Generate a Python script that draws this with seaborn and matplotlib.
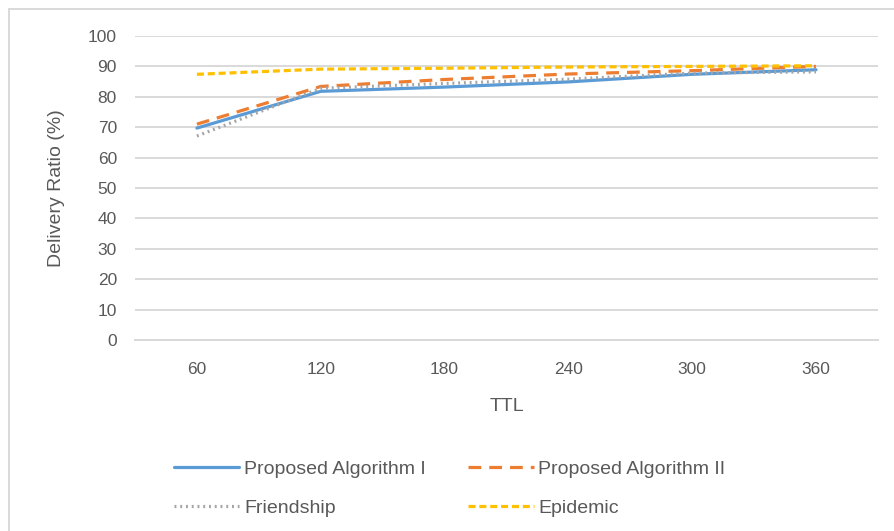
import pandas as pd
import matplotlib.pyplot as plt
import seaborn as sns

# values
ttl = [60, 120, 180, 240, 300, 360]
proposed_1 = [69.7, 81.8, 83.2, 84.9, 87.4, 88.9]
proposed_2 = [71.0, 83.4, 85.7, 87.5, 88.6, 90.0]
friendship = [67.1, 82.8, 84.4, 85.8, 87.8, 88.2]
epidemic = [87.4, 89.1, 89.4, 89.8, 90.0, 90.2]

series_names = ["Proposed Algorithm I", "Proposed Algorithm II", "Friendship", "Epidemic"]
series_values = [proposed_1, proposed_2, friendship, epidemic]

rows = []
for name, vals in zip(series_names, series_values):
    for t, v in zip(ttl, vals):
        rows.append({"TTL": t, "ratio": v, "series": name})
data = pd.DataFrame(rows)

sns.set_style("white")
plt.rcParams['font.family'] = ['Liberation Sans', 'DejaVu Sans']
text_color = "#595959"

fig = plt.figure(figsize=(8.94, 5.31), dpi=100)
ax = fig.add_axes([0.151, 0.3597, 0.831, 0.5725])

palette = {"Proposed Algorithm I": "#5B9BD5",
           "Proposed Algorithm II": "#ED7D31",
           "Friendship": "#A5A5A5",
           "Epidemic": "#FFC000"}
dashes = {"Proposed Algorithm I": "",
          "Proposed Algorithm II": (4, 2.5),
          "Friendship": (0.6, 1.2),
          "Epidemic": (2.2, 1.2)}

sns.lineplot(data=data, x="TTL", y="ratio", hue="series", style="series",
             palette=palette, dashes=dashes, linewidth=2.3, ax=ax, legend=False)
for line in ax.lines:
    line.set_dash_capstyle("butt")

ax.set_xlim(30, 390)
ax.set_ylim(0, 100)
ax.set_xticks(ttl)
ax.set_yticks(range(0, 101, 10))
ax.grid(axis="y", color="#D9D9D9", linewidth=1.4)
ax.set_axisbelow(True)
for s in ["top", "right", "left"]:
    ax.spines[s].set_visible(False)
ax.spines["bottom"].set_color("#D9D9D9")
ax.spines["bottom"].set_linewidth(1.4)
ax.tick_params(axis="both", length=0, labelsize=12.5, labelcolor=text_color)
ax.tick_params(axis="x", pad=16)
ax.tick_params(axis="y", pad=13)

ax.set_xlabel("TTL", fontsize=14, color=text_color, labelpad=15)
ax.set_ylabel("Delivery Ratio (%)", fontsize=14, color=text_color)
ax.yaxis.set_label_coords(-0.094, 0.5)

# legend built from the plotted lines, filled row by row like the reference
lines = dict(zip(series_names, ax.lines[:4]))
order = ["Proposed Algorithm I", "Friendship", "Proposed Algorithm II", "Epidemic"]
leg = fig.legend([lines[n] for n in order], order, loc="lower left",
                 bbox_to_anchor=(0.175, -0.006), ncol=2, frameon=False, fontsize=14,
                 handlelength=3.35, columnspacing=2.2, handletextpad=0.25,
                 labelspacing=1.1)
for t in leg.get_texts():
    t.set_color(text_color)

# light frame (top and left edges visible in the reference)
fig.add_artist(plt.Line2D([9 / 894, 1], [1 - 9 / 531, 1 - 9 / 531], color="#D9D9D9",
                          linewidth=1.4, transform=fig.transFigure))
fig.add_artist(plt.Line2D([9 / 894, 9 / 894], [0, 1 - 9 / 531], color="#D9D9D9",
                          linewidth=1.4, transform=fig.transFigure))

fig.savefig("out.png", dpi=100)
